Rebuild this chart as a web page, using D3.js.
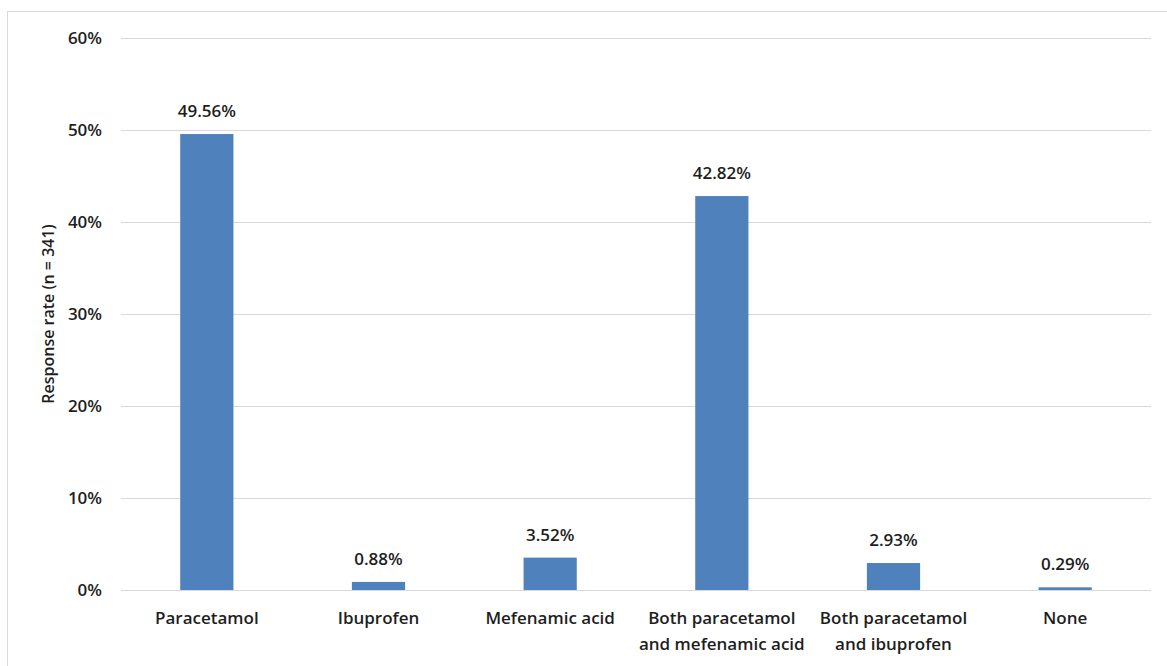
<!DOCTYPE html>
<html>
<head>
<meta charset="utf-8">
<script src="https://cdn.jsdelivr.net/npm/d3@7"></script>
<style>
  html, body { margin: 0; padding: 0; background: #fff; }
  svg { display: block; }
  text { font-family: "Open Sans", Lato, sans-serif; font-weight: 600; fill: #1e1e1e; }
</style>
</head>
<body>
<svg id="chart" width="1167" height="666"></svg>
<script>
const categories = [
  ["Paracetamol"],
  ["Ibuprofen"],
  ["Mefenamic acid"],
  ["Both paracetamol", "and mefenamic acid"],
  ["Both paracetamol", "and ibuprofen"],
  ["None"]
];
const values = [49.56, 0.88, 3.52, 42.82, 2.93, 0.29];
const yTicks = [0, 10, 20, 30, 40, 50, 60];
const yTitle = "Response rate (n = 341)";

const svg = d3.select("#chart");
const W = 1167, H = 666;
const margin = { left: 121, right: 16, top: 38, bottom: 76 };

// outer border
svg.append("rect").attr("x", 7.5).attr("y", 11.5)
  .attr("width", W - 7).attr("height", H - 11)
  .attr("fill", "none").attr("stroke", "#d9d9d9").attr("stroke-width", 1);

const x = d3.scaleBand()
  .domain(d3.range(categories.length))
  .range([margin.left, W - margin.right])
  .paddingInner(0.69).paddingOuter(0.345);

const y = d3.scaleLinear().domain([0, 60]).range([H - margin.bottom, margin.top]);

// gridlines
const yAxis = d3.axisLeft(y).tickValues(yTicks)
  .tickSize(-(W - margin.right - margin.left))
  .tickFormat(d => d + "%");
const gy = svg.append("g").attr("transform", `translate(${margin.left},0)`).call(yAxis);
gy.select(".domain").remove();
gy.selectAll(".tick line").attr("stroke", "#d9d9d9").attr("stroke-width", 1.2);
gy.selectAll(".tick text").attr("x", -19).attr("dy", "0.35em")
  .style("font-size", "17px").style("font-family", "'Open Sans', sans-serif").attr("fill", "#1e1e1e");

// bars
svg.append("g").selectAll("rect").data(values).join("rect")
  .attr("x", (d, i) => x(i))
  .attr("width", x.bandwidth())
  .attr("y", d => y(d))
  .attr("height", d => y(0) - y(d))
  .attr("fill", "#4f81bd");

// value labels
svg.append("g").selectAll("text").data(values).join("text")
  .attr("x", (d, i) => x(i) + x.bandwidth() / 2)
  .attr("y", d => y(d) - 17)
  .attr("text-anchor", "middle")
  .style("font-size", "17px")
  .text(d => d.toFixed(2) + "%");

// x labels
const xl = svg.append("g").selectAll("text").data(categories).join("text")
  .attr("x", (d, i) => x(i) + x.bandwidth() / 2)
  .attr("y", 624)
  .attr("text-anchor", "middle")
  .style("font-size", "17px");
xl.selectAll("tspan").data(d => d).join("tspan")
  .attr("x", function () { return d3.select(this.parentNode).attr("x"); })
  .attr("dy", (d, i) => i === 0 ? 0 : 26)
  .text(d => d);

// y title
svg.append("text")
  .attr("transform", `translate(54, ${(y(0) + y(60)) / 2}) rotate(-90)`)
  .attr("text-anchor", "middle")
  .style("font-size", "16px")
  .text(yTitle);
</script>
</body>
</html>
